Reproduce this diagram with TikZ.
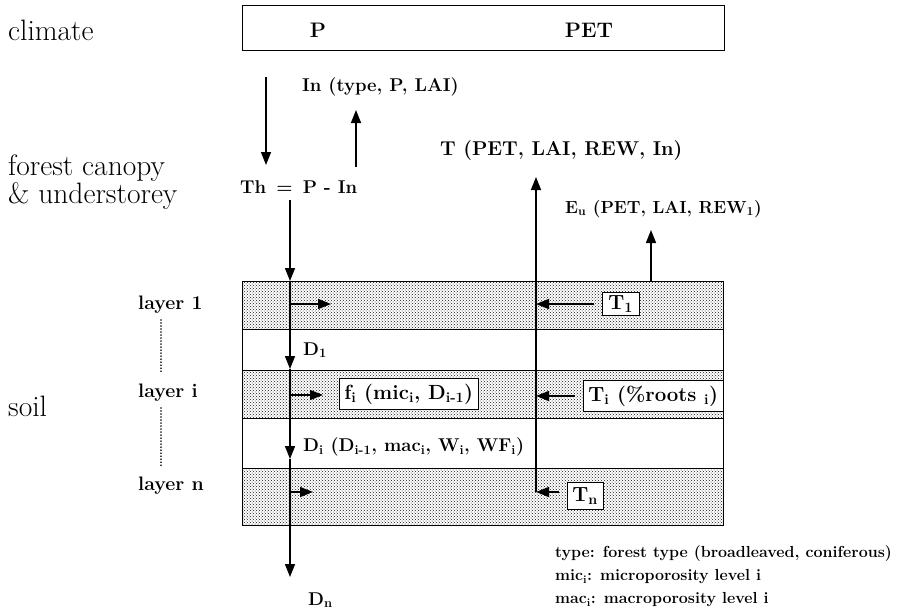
\documentclass[tikz,border=0pt]{standalone}
\usetikzlibrary{arrows.meta,patterns}
\begin{document}
\begin{tikzpicture}[x=1pt,y=-1pt,
  arr/.style={line width=1.5pt,-{Triangle[width=10pt,length=13pt]}},
  lbl/.style={font=\fontsize{18.5}{20}\selectfont\bfseries, inner sep=0pt, anchor=west},
  big/.style={font=\fontsize{21}{24}\selectfont\bfseries, inner sep=0pt},
  side/.style={font=\fontsize{29.5}{31}\selectfont, inner sep=0pt, anchor=west},
  lay/.style={font=\fontsize{19.5}{21}\selectfont\bfseries, inner sep=0pt, anchor=west},
  leg/.style={font=\fontsize{16}{18}\selectfont\bfseries, inner sep=0pt, anchor=west},
  wbox/.style={draw, line width=0.8pt, fill=white, inner xsep=5pt, inner ysep=5pt,
     font=\fontsize{20.5}{22}\selectfont\bfseries, anchor=west},
  dotfill/.style={pattern=crosshatch dots, pattern color=black!90},
  dotline/.style={line width=1.6pt, dash pattern=on 0.01pt off 3pt, line cap=round}]
\useasboundingbox (0,0) rectangle (897,611);

% left labels
\node[side] (lclim) at (8,30) {climate};
\node[side] (lfor) at (8,168) {forest canopy};
\node[side] (lund) at (8,196) {\& understorey};
\node[side] (lsoil) at (8,406) {soil};
\node[lay] (l1) at (138,305) {layer 1};
\node[lay] (li) at (138,393) {layer i};
\node[lay] (ln) at (138,486) {layer n};
\draw[dotline] (161,320) -- (161,373);
\draw[dotline] (161,408) -- (161,468);

% climate box
\node[draw, line width=1pt, minimum width=482pt, minimum height=45pt, outer sep=0pt,
      anchor=north west] (clim) at (242,5) {};
\node[big] (P) at (318,30) {P};
\node[big] (PET) at (589,30) {PET};

% canopy
\coordinate (pa) at (266,77);
\coordinate (pb) at (266,165);
\draw[arr] (pa) -- (pb);
\coordinate (ia) at (356,167);
\coordinate (ib) at (356,110);
\draw[arr] (ia) -- (ib);
\node[lbl] (In) at (302,87) {In (type, P, LAI)};
\node[lbl, font=\fontsize{20}{22}\selectfont\bfseries] (T) at (440,151) {T (PET, LAI, REW, In)};
\node[lbl, font=\fontsize{17.5}{20}\selectfont\bfseries] (Eu) at (565,209) {E\textsubscript{u} (PET, LAI, REW\textsubscript{1})};
\node[lbl] (th) at (240,187) {Th\hspace{0.55em}=\hspace{0.55em}P - In};

% soil layers
\draw[line width=1pt, dotfill] (242,281) rectangle (723,329);
\draw[line width=1pt, fill=white] (242,329) rectangle (723,370);
\draw[line width=1pt, dotfill] (242,370) rectangle (723,418);
\draw[line width=1pt, fill=white] (242,418) rectangle (723,468);
\draw[line width=1pt, dotfill] (242,468) rectangle (723,525);

% drainage line
\coordinate (v0) at (290,200);
\coordinate (v1) at (290,281);
\coordinate (v2) at (290,369);
\coordinate (v3) at (290,459);
\coordinate (v4) at (290,577);
\draw[arr] (v0) -- (v1);
\draw[arr] (v1) -- (v2);
\draw[arr] (v2) -- (v3);
\draw[arr] (v3) -- (v4);

\coordinate (r1) at (331,304);
\coordinate (ri) at (323,395);
\coordinate (rn) at (313,492);
\draw[arr] (v1 |- r1) -- (r1);
\draw[arr] (v1 |- ri) -- (ri);
\draw[arr] (v1 |- rn) -- (rn);

\node[wbox] (fi) at (339,394) {f\textsubscript{i} (mic\textsubscript{i}, D\textsubscript{i-1})};
\node[lbl] (D1) at (303,350) {D\textsubscript{1}};
\node[lbl] (Di) at (303,447) {D\textsubscript{i} (D\textsubscript{i-1}, mac\textsubscript{i}, W\textsubscript{i}, WF\textsubscript{i})};
\node[lbl] (Dn) at (308,600) {D\textsubscript{n}};

% transpiration line
\coordinate (t0) at (536,492);
\coordinate (t1) at (536,177);
\draw[arr] (t0) -- (t1);
\node[wbox, inner ysep=3pt, inner xsep=6pt] (T1) at (602,304) {T\textsubscript{1}};
\node[wbox] (Ti) at (583,396) {T\textsubscript{i} (\%roots \textsubscript{i})};
\node[wbox] (Tn) at (567,496) {T\textsubscript{n}};
\draw[arr, shorten <=8pt] (T1.west) -- (T1.west -| t0);
\draw[arr, shorten <=8pt] (Ti.west) -- (Ti.west -| t0);
\draw[arr, shorten <=8pt] (Tn.west |- t0) -- (t0);

% understorey evaporation
\coordinate (e0) at (651,281);
\coordinate (e1) at (651,230);
\draw[arr] (e0) -- (e1);

% legend
\node[leg] (lg1) at (555,553) {type: forest type (broadleaved, coniferous)};
\node[leg] (lg2) at (555,577) {mic\textsubscript{i}: microporosity level i};
\node[leg] (lg3) at (555,600) {mac\textsubscript{i}: macroporosity level i};
\end{tikzpicture}
\end{document}
